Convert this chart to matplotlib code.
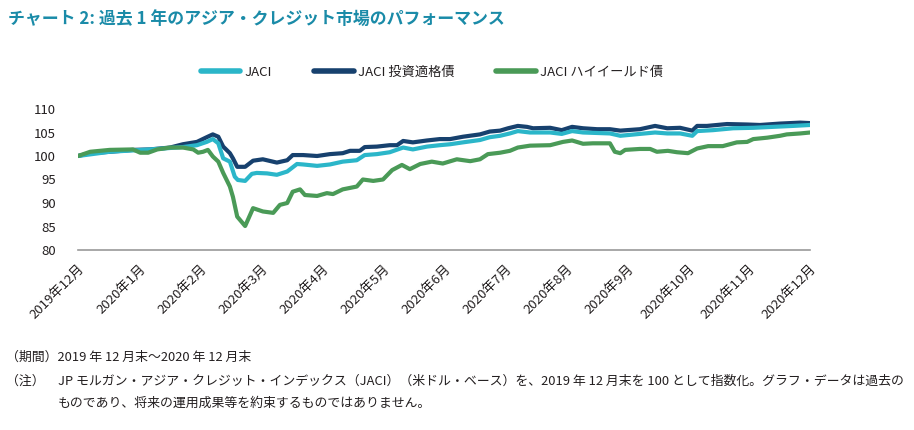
import numpy as np
import matplotlib
matplotlib.use("Agg")
import matplotlib.pyplot as plt

plt.rcParams['font.family'] = ['Noto Sans CJK JP', 'DejaVu Sans']

# month labels (category axis, 0 = 2019年12月 ... 12 = 2020年12月)
month_labels = ['2019年12月', '2020年1月', '2020年2月', '2020年3月', '2020年4月',
                '2020年5月', '2020年6月', '2020年7月', '2020年8月', '2020年9月',
                '2020年10月', '2020年11月', '2020年12月']

# JACI
jaci_x = [0, 0.52, 1.18, 1.72, 1.95, 2.11, 2.21, 2.30, 2.38, 2.49, 2.57, 2.62, 2.74,
          2.85, 2.93, 3.10, 3.26, 3.43, 3.59, 3.69, 3.92, 4.13, 4.34, 4.57, 4.70, 4.90,
          5.11, 5.33, 5.49, 5.72, 5.93, 6.10, 6.31, 6.59, 6.75, 6.92, 7.08, 7.21, 7.41,
          7.74, 7.93, 8.10, 8.28, 8.72, 8.89, 9.21, 9.46, 9.66, 9.87, 10.07, 10.15,
          10.41, 10.74, 11.07, 11.39, 11.72, 12.0]
jaci_y = [100.0, 100.9, 101.4, 101.9, 102.3, 103.0, 103.6, 102.7, 99.5, 98.8, 95.6, 94.9, 94.7,
          96.2, 96.4, 96.3, 96.0, 96.7, 98.3, 98.2, 97.9, 98.2, 98.8, 99.1, 100.2, 100.4,
          100.8, 101.8, 101.4, 102.0, 102.3, 102.5, 102.9, 103.4, 104.0, 104.3, 104.8, 105.3, 105.0,
          105.0, 104.7, 105.3, 105.0, 104.8, 104.3, 104.7, 105.0, 104.8, 104.8, 104.3, 105.3,
          105.5, 105.9, 106.0, 106.2, 106.4, 106.6]

# JACI 投資適格債
ig_x = [0, 0.20, 0.52, 0.90, 1.18, 1.51, 1.72, 1.95, 2.11, 2.21, 2.30, 2.38, 2.49, 2.54,
        2.61, 2.74, 2.87, 3.03, 3.26, 3.43, 3.52, 3.69, 3.92, 4.13, 4.34, 4.46, 4.62,
        4.70, 4.90, 5.11, 5.23, 5.33, 5.49, 5.72, 5.93, 6.10, 6.31, 6.59, 6.75, 6.92,
        7.05, 7.21, 7.36, 7.46, 7.74, 7.93, 8.10, 8.28, 8.51, 8.72, 8.89, 9.21, 9.46,
        9.66, 9.87, 10.07, 10.15, 10.31, 10.64, 10.97, 11.18, 11.51, 11.84, 12.0]
ig_y = [100.0, 100.6, 100.9, 101.3, 101.4, 101.8, 102.5, 103.0, 104.0, 104.6, 104.1, 102.0, 100.6, 99.5,
        97.7, 97.7, 99.0, 99.3, 98.6, 99.1, 100.2, 100.2, 100.0, 100.4, 100.6, 101.1, 101.1,
        101.9, 102.0, 102.3, 102.3, 103.2, 102.9, 103.3, 103.6, 103.6, 104.1, 104.6, 105.2, 105.4,
        105.9, 106.4, 106.2, 105.9, 106.0, 105.5, 106.2, 105.9, 105.7, 105.7, 105.4, 105.7, 106.4,
        105.9, 106.0, 105.4, 106.4, 106.4, 106.8, 106.7, 106.6, 106.9, 107.1, 107.0]

# JACI ハイイールド債
hy_x = [0, 0.20, 0.52, 0.90, 1.02, 1.15, 1.30, 1.51, 1.72, 1.89, 1.97, 2.05, 2.13, 2.21,
        2.30, 2.38, 2.49, 2.54, 2.61, 2.74, 2.87, 3.03, 3.20, 3.31, 3.43, 3.52, 3.64,
        3.72, 3.92, 4.08, 4.18, 4.34, 4.57, 4.67, 4.84, 5.00, 5.15, 5.31, 5.44, 5.61,
        5.80, 5.98, 6.21, 6.43, 6.59, 6.72, 6.92, 7.08, 7.21, 7.41, 7.74, 7.95, 8.10,
        8.28, 8.44, 8.72, 8.80, 8.89, 8.97, 9.21, 9.38, 9.49, 9.67, 9.82, 10.00, 10.15,
        10.33, 10.57, 10.80, 10.97, 11.07, 11.30, 11.51, 11.62, 11.84, 12.0]
hy_y = [100.0, 100.9, 101.3, 101.4, 100.7, 100.7, 101.4, 101.8, 101.8, 101.4, 100.7, 100.9, 101.3, 99.9,
        98.8, 96.4, 93.5, 91.3, 87.1, 85.1, 88.9, 88.2, 87.9, 89.6, 90.0, 92.4, 92.9,
        91.7, 91.5, 92.1, 91.9, 92.9, 93.5, 95.0, 94.7, 95.0, 97.0, 98.1, 97.2, 98.3,
        98.8, 98.4, 99.3, 98.9, 99.3, 100.4, 100.7, 101.1, 101.8, 102.2, 102.3, 103.0, 103.3,
        102.6, 102.7, 102.7, 100.9, 100.6, 101.3, 101.5, 101.5, 100.9, 101.1, 100.8, 100.6, 101.6,
        102.1, 102.1, 102.9, 103.0, 103.6, 103.9, 104.3, 104.6, 104.8, 105.0]

c_jaci = '#2bb6c9'
c_ig = '#17416e'
c_hy = '#4a9a57'
c_text = '#231f20'

fig = plt.figure(figsize=(9.14, 4.30), dpi=100)
ax = fig.add_axes([78/914, 180/430, 732/914, 141/430])

ax.plot(jaci_x, jaci_y, color=c_jaci, lw=3.0, label='JACI', solid_capstyle='round', zorder=3)
ax.plot(ig_x, ig_y, color=c_ig, lw=3.0, label='JACI 投資適格債', solid_capstyle='round', zorder=2)
ax.plot(hy_x, hy_y, color=c_hy, lw=3.0, label='JACI ハイイールド債', solid_capstyle='round', zorder=4)

ax.set_xlim(0, 12)
ax.set_ylim(80, 110)
ax.set_yticks([80, 85, 90, 95, 100, 105, 110])
ax.set_xticks(range(13))
ax.set_xticklabels(month_labels, rotation=45, ha='right', rotation_mode='anchor')
ax.tick_params(axis='both', length=0, labelsize=9.5, colors=c_text)
ax.tick_params(axis='y', pad=16)
ax.tick_params(axis='x', pad=9)
for s in ['top', 'right', 'left']:
    ax.spines[s].set_visible(False)
ax.spines['bottom'].set_color('#9a9a9a')
ax.spines['bottom'].set_linewidth(1.2)

h, l = ax.get_legend_handles_labels()
leg = fig.legend(h, l, loc='center', bbox_to_anchor=(432/914, 1 - 72/430),
                 ncol=3, frameon=False, fontsize=9.5, handlelength=3.0, columnspacing=3.2,
                 handletextpad=0.3)
for line in leg.get_lines():
    line.set_linewidth(4)
for t in leg.get_texts():
    t.set_color(c_text)

fig.text(8/914, 1 - 20/430, 'チャート 2: 過去 1 年のアジア・クレジット市場のパフォーマンス',
         fontsize=12.2, fontweight='bold', color='#1a8ba8', va='center', ha='left')

fig.text(6/914, 1 - 357/430, '（期間）2019 年 12 月末～2020 年 12 月末',
         fontsize=9.3, color=c_text, va='center', ha='left')
fig.text(6/914, 1 - 381/430, '（注）', fontsize=9.3, color=c_text, va='center', ha='left')
fig.text(58/914, 1 - 381/430,
         'JP モルガン・アジア・クレジット・インデックス（JACI）（米ドル・ベース）を、2019 年 12 月末を 100 として指数化。グラフ・データは過去の',
         fontsize=9.3, color=c_text, va='center', ha='left')
fig.text(58/914, 1 - 403/430, 'ものであり、将来の運用成果等を約束するものではありません。',
         fontsize=9.3, color=c_text, va='center', ha='left')

fig.savefig('out.png', dpi=100)
